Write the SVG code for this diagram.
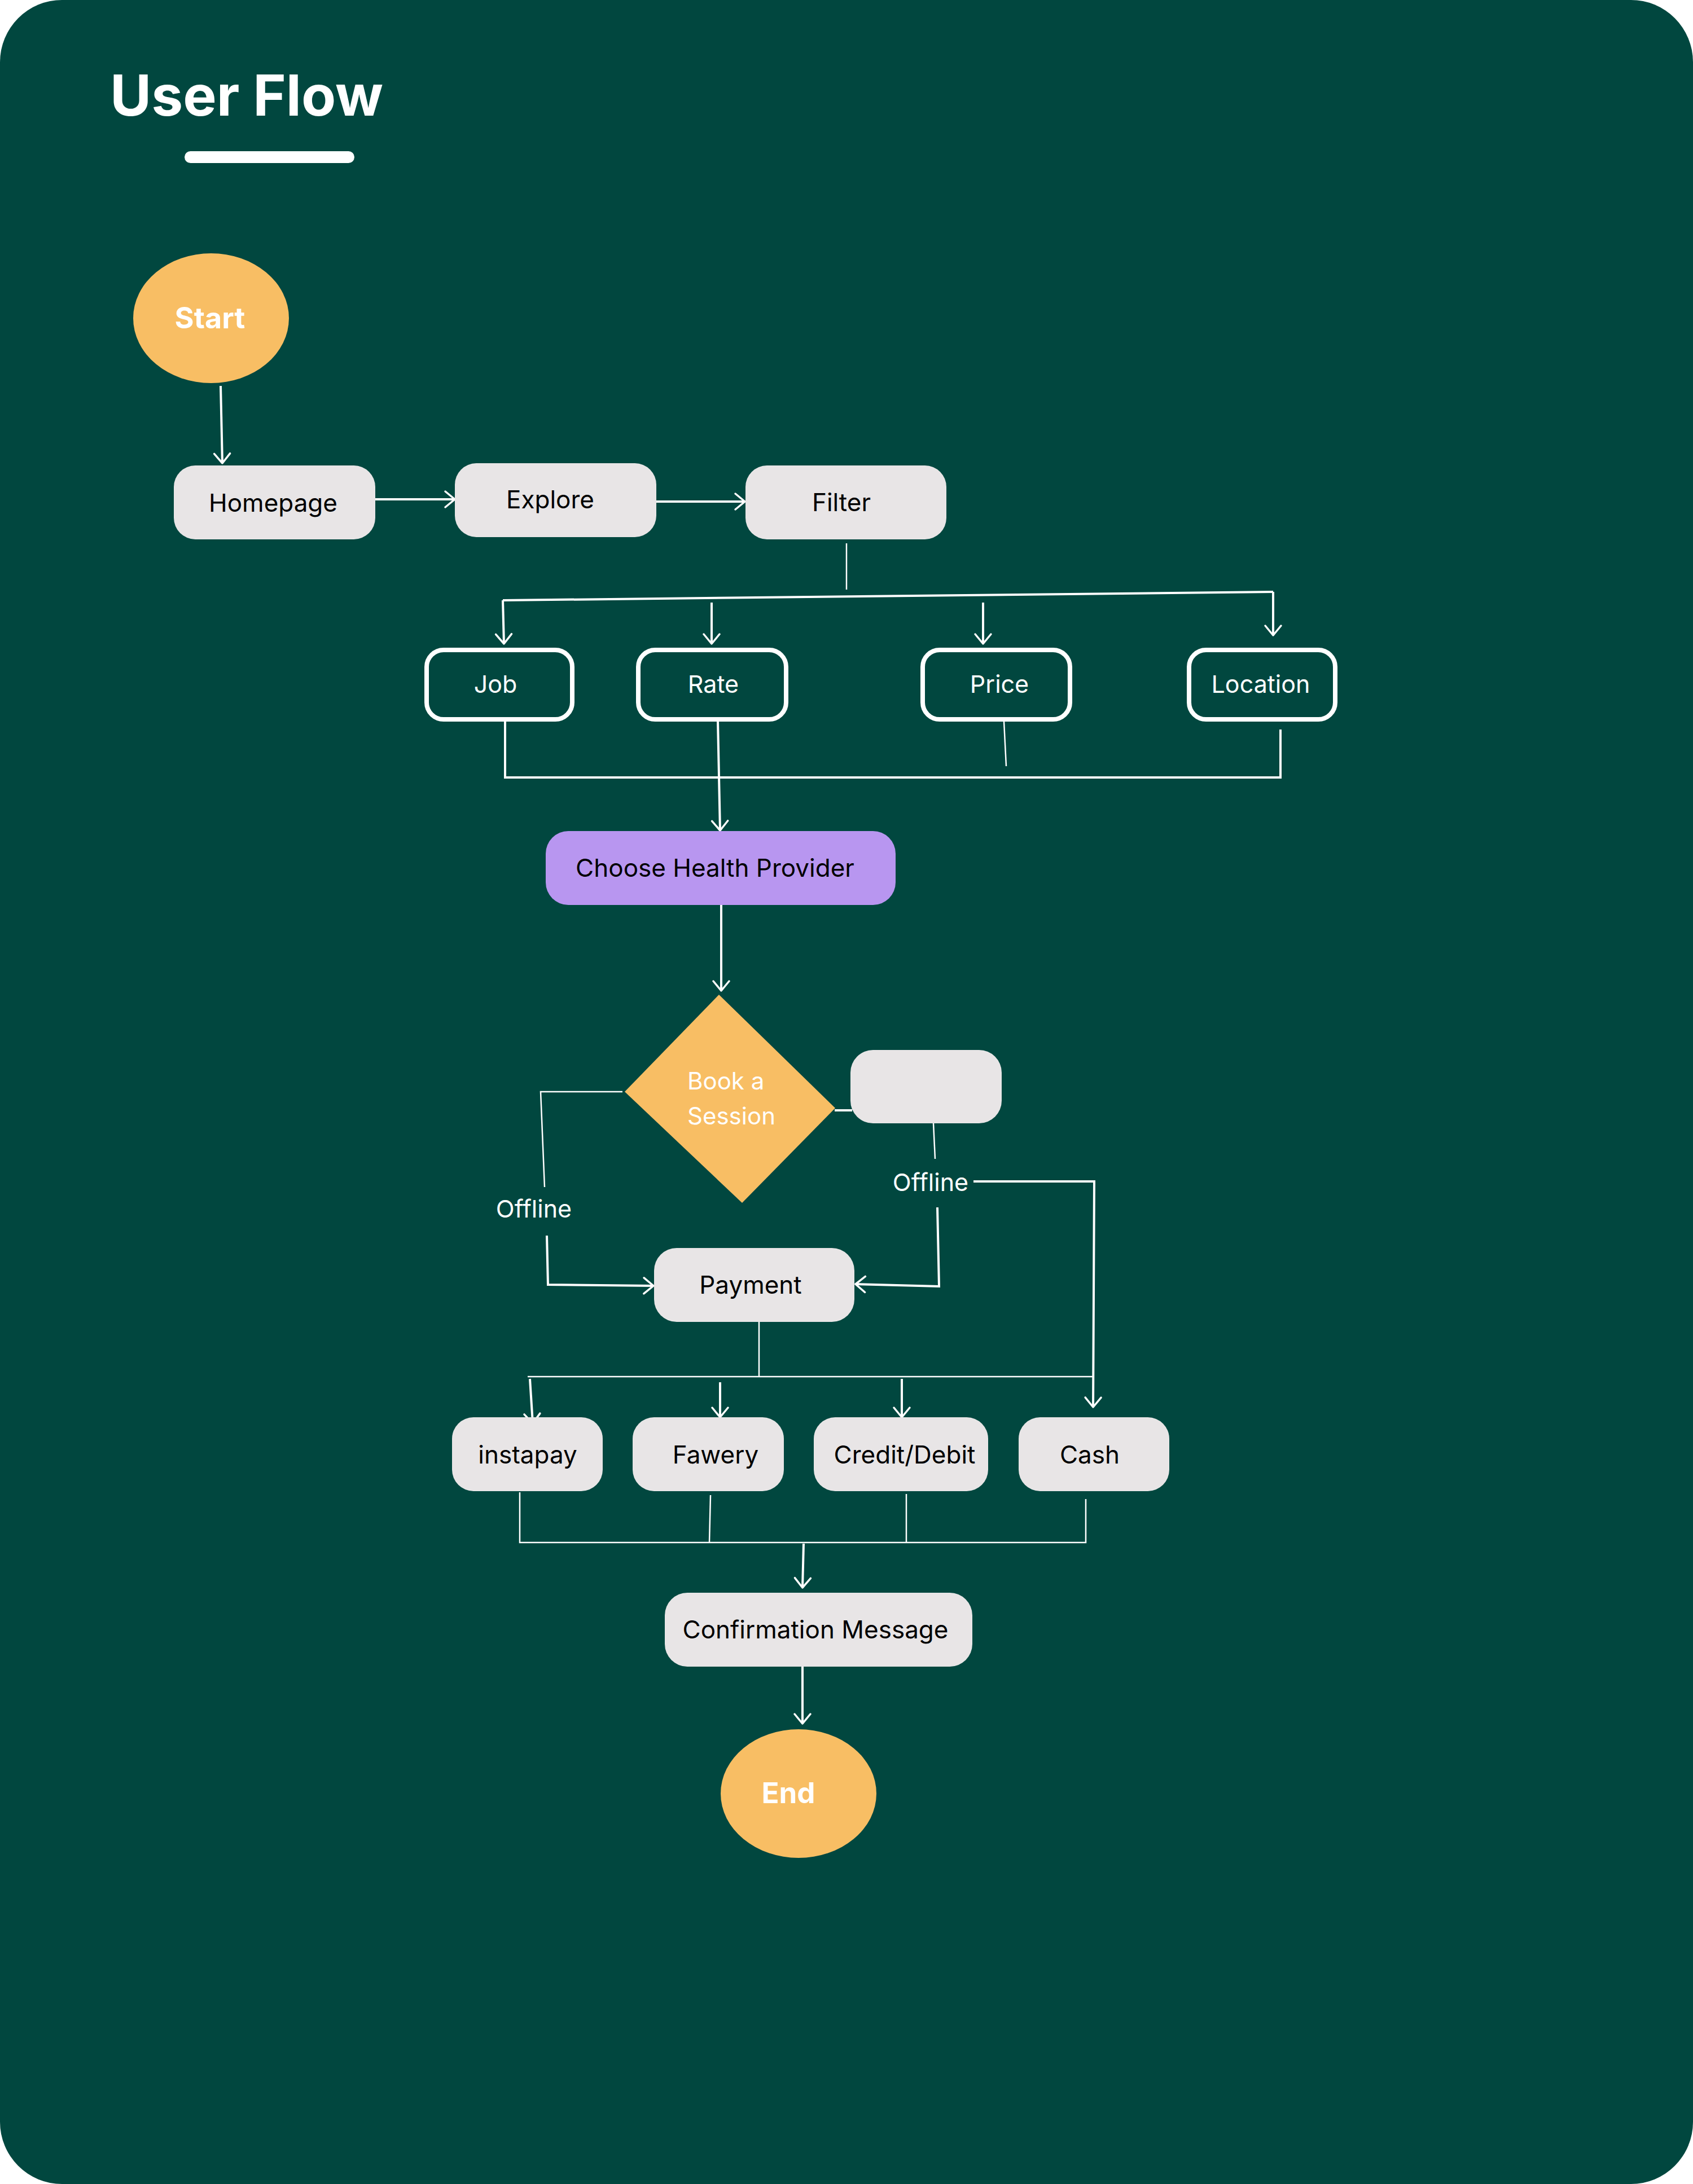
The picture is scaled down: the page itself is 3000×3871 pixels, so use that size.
<svg xmlns="http://www.w3.org/2000/svg" width="3000" height="3871" viewBox="0 0 3000 3871">
<style>
.bg{fill:#01473F}
.box{fill:#E8E5E6}
.obox{fill:none;stroke:#FFFFFF;stroke-width:8}
.chp{fill:#B896F0}
.yel{fill:#F8BE64}
.t{font-family:Inter,"Liberation Sans",sans-serif;font-size:44px;fill:#000000;text-anchor:middle}
.tw{font-family:Inter,"Liberation Sans",sans-serif;font-size:43px;fill:#FFFFFF;text-anchor:middle}
.tb{font-family:Inter,"Liberation Sans",sans-serif;font-weight:700;fill:#FFFFFF;text-anchor:middle}
.c{fill:none;stroke:#FFFFFF;stroke-width:4}
.c2{fill:none;stroke:#FFFFFF;stroke-width:2.5}
.a{marker-end:url(#arr)}
</style>
<defs>
<marker id="arr" markerUnits="userSpaceOnUse" markerWidth="44" markerHeight="44" viewBox="-22 -22 44 44" refX="0" refY="0" orient="auto">
<path d="M -17 -14 L 0 0 L -17 14" fill="none" stroke="#FFFFFF" stroke-width="3.5" stroke-linecap="round" stroke-linejoin="round"/>
</marker>
</defs>
<rect class="bg" x="0" y="0" width="3000" height="3871" rx="110" ry="110"/>
<g id="title">
<text x="195" y="205" font-family="Inter,'Liberation Sans',sans-serif" font-weight="700" font-size="100" fill="#FFFFFF">User Flow</text>
<rect x="327" y="268" width="301" height="21" rx="10.5" fill="#FFFFFF"/>
</g>
<g id="connectors">
<path class="c a" d="M391,684 L394,821"/>
<path class="c a" d="M665,885 L806,885"/>
<path class="c a" d="M1163,889 L1320,889"/>
<path class="c2" d="M1500,963 L1500,1045"/>
<path class="c" d="M891,1064 L2256,1049"/>
<path class="c a" d="M891,1064 L893,1141"/>
<path class="c a" d="M1261,1068 L1261,1141"/>
<path class="c a" d="M1742,1068 L1742,1141"/>
<path class="c a" d="M2256,1049 L2256,1126"/>
<path class="c" d="M895,1279 L895,1378 L2269,1378 L2269,1293"/>
<path class="c2" d="M1779,1279 L1783,1358"/>
<path class="c a" d="M1272,1279 L1276,1472"/>
<path class="c a" d="M1278,1604 L1278,1756"/>
<path class="c2" d="M1103,1935 L958,1935 L965,2104"/>
<path class="c a" d="M969,2190 L971,2277 L1158,2279"/>
<path class="c" d="M1479,1968 L1510,1968"/>
<path class="c2" d="M1654,1991 L1657,2054"/>
<path class="c a" d="M1725,2094 L1939,2094 L1937,2494"/>
<path class="c a" d="M1661,2140 L1664,2280 L1516,2276"/>
<path class="c2" d="M1345,2343 L1345,2440"/>
<path class="c2" d="M935,2440 L1939,2440"/>
<path class="c a" d="M939,2444 L944,2523"/>
<path class="c a" d="M1276,2450 L1276,2512"/>
<path class="c a" d="M1598,2444 L1598,2512"/>
<path class="c2" d="M921,2645 L921,2734 L1924,2734 L1924,2657"/>
<path class="c2" d="M1259,2650 L1257,2734"/>
<path class="c2" d="M1606,2648 L1606,2734"/>
<path class="c a" d="M1424,2736 L1422,2814"/>
<path class="c a" d="M1422,2954 L1422,3055"/>
</g>
<g id="start">
<ellipse class="yel" cx="374" cy="564" rx="138" ry="115"/>
<text class="tb" x="372" y="582" font-size="52">Start</text>
</g>
<g id="homepage">
<rect class="box" x="308" y="825" width="357" height="131" rx="38"/>
<text class="t" x="484" y="907">Homepage</text>
</g>
<g id="explore">
<rect class="box" x="806" y="821" width="357" height="131" rx="38"/>
<text class="t" x="975" y="901">Explore</text>
</g>
<g id="filter">
<rect class="box" x="1321" y="825" width="356" height="131" rx="38"/>
<text class="t" x="1491" y="906">Filter</text>
</g>
<g id="job">
<rect class="obox" x="756" y="1152" width="258" height="123" rx="30"/>
<text class="tw" x="878" y="1228">Job</text>
</g>
<g id="rate">
<rect class="obox" x="1131" y="1152" width="262" height="123" rx="30"/>
<text class="tw" x="1264" y="1228">Rate</text>
</g>
<g id="price">
<rect class="obox" x="1635" y="1152" width="261" height="123" rx="30"/>
<text class="tw" x="1771" y="1228">Price</text>
</g>
<g id="location">
<rect class="obox" x="2107" y="1152" width="259" height="123" rx="30"/>
<text class="tw" x="2234" y="1228">Location</text>
</g>
<g id="choose-health-provider">
<rect class="chp" x="967" y="1473" width="620" height="131" rx="40"/>
<text class="t" x="1267" y="1554">Choose Health Provider</text>
</g>
<g id="book-a-session">
<polygon class="yel" points="1274,1763 1480,1964 1315,2132 1107,1935"/>
<text x="1218" y="1931" font-family="Inter,'Liberation Sans',sans-serif" font-size="42" fill="#FFFFFF">Book a</text>
<text x="1218" y="1993" font-family="Inter,'Liberation Sans',sans-serif" font-size="42" fill="#FFFFFF">Session</text>
</g>
<g id="blank-box">
<rect class="box" x="1507" y="1861" width="268" height="130" rx="40"/>
</g>
<g id="offline-left">
<text class="tw" x="946" y="2158" font-size="42">Offline</text>
</g>
<g id="offline-right">
<text class="tw" x="1649" y="2111" font-size="42">Offline</text>
</g>
<g id="payment">
<rect class="box" x="1159" y="2212" width="355" height="131" rx="40"/>
<text class="t" x="1330" y="2293">Payment</text>
</g>
<g id="instapay">
<rect class="box" x="801" y="2512" width="267" height="131" rx="38"/>
<text class="t" x="935" y="2594">instapay</text>
</g>
<g id="fawery">
<rect class="box" x="1121" y="2512" width="268" height="131" rx="38"/>
<text class="t" x="1268" y="2594">Fawery</text>
</g>
<g id="credit-debit">
<rect class="box" x="1442" y="2512" width="309" height="131" rx="38"/>
<text class="t" x="1603" y="2594">Credit/Debit</text>
</g>
<g id="cash">
<rect class="box" x="1805" y="2512" width="267" height="131" rx="38"/>
<text class="t" x="1931" y="2594">Cash</text>
</g>
<g id="confirmation-message">
<rect class="box" x="1178" y="2823" width="545" height="131" rx="40"/>
<text class="t" x="1445" y="2904">Confirmation Message</text>
</g>
<g id="end">
<ellipse class="yel" cx="1415" cy="3179" rx="138" ry="114"/>
<text class="tb" x="1397" y="3196" font-size="51">End</text>
</g>
</svg>
